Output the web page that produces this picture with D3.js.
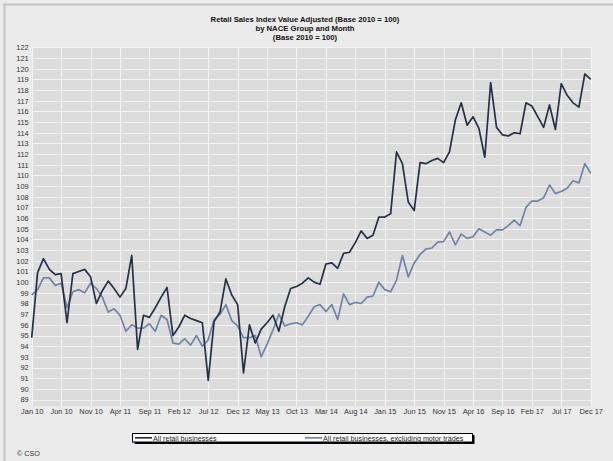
<!DOCTYPE html>
<html>
<head>
<meta charset="utf-8">
<script src="https://cdn.jsdelivr.net/npm/d3@7"></script>
<style>
  html, body { margin: 0; padding: 0; background: #ebebeb; }
  svg { display: block; font-family: "Liberation Sans", Arial, sans-serif; }
</style>
</head>
<body>
<svg id="chart" width="613" height="461"></svg>
<script>
const titleLines = [
  "Retail Sales Index Value Adjusted (Base 2010 = 100)",
  "by NACE Group and Month",
  "(Base 2010 = 100)"
];
const seriesNames = ["All retail businesses", "All retail businesses, excluding motor trades"];
const tickLabels = ["Jan 10","Jun 10","Nov 10","Apr 11","Sep 11","Feb 12","Jul 12","Dec 12","May 13","Oct 13",
  "Mar 14","Aug 14","Jan 15","Jun 15","Nov 15","Apr 16","Sep 16","Feb 17","Jul 17","Dec 17"];
const yTicks = d3.range(89, 123);

// Monthly values Jan 2010 .. Dec 2017
const allRetail = [
  94.8,100.9,102.2,101.2,100.7,100.8, 96.2,100.8,101.0,101.2,100.5, 98.0,
  99.2,100.1, 99.4, 98.6, 99.4,102.5, 93.7, 96.9, 96.7, 97.6, 98.6, 99.5,
  95.0, 95.8, 96.9, 96.6, 96.4, 96.2, 90.8, 96.3, 97.2,100.3, 98.8, 97.9,
  91.5, 96.0, 94.3, 95.6, 96.2, 96.9, 95.4, 97.7, 99.4, 99.6, 99.9,100.4,
  100.0, 99.8,101.7,101.8,101.3,102.7,102.8,103.7,104.8,104.1,104.4,106.1,
  106.1,106.4,112.2,111.1,107.5,106.7,111.2,111.1,111.4,111.6,111.2,112.2,
  115.2,116.8,114.7,115.5,114.4,111.7,118.7,114.5,113.8,113.7,114.0,113.9,
  116.8,116.5,115.5,114.5,116.6,114.3,118.6,117.5,116.8,116.4,119.5,119.0
];
const exMotor = [
  98.8, 99.3,100.4,100.4, 99.7, 99.9, 97.6, 99.1, 99.3, 99.0, 99.9, 99.4,
  98.6, 97.2, 97.5, 96.9, 95.4, 96.0, 95.7, 95.7, 96.1, 95.4, 96.9, 96.5,
  94.3, 94.2, 94.7, 94.1, 95.0, 94.0, 94.6, 96.5, 97.0, 97.9, 96.4, 95.9,
  94.8, 94.8, 95.0, 93.0, 94.2, 95.5, 97.0, 95.9, 96.1, 96.2, 96.0, 96.8,
  97.7, 97.9, 97.25,97.9, 96.5, 98.9, 97.9, 98.1, 98.0, 98.6, 98.7,100.0,
  99.3, 99.1,100.2,102.5,100.5,101.8,102.6,103.1,103.2,103.75,103.8,104.7,
  103.5,104.5,104.1,104.25,105.0,104.7,104.4,104.9,104.9,105.3,105.8,105.3,
  107.0,107.6,107.6,107.9,109.1,108.3,108.5,108.8,109.5,109.3,111.1,110.2
];
const colors = ["#263047", "#7084a8"];

const svg = d3.select("#chart");
const W = 613, H = 461;
const plot = {left: 31.7, right: 590.7, top: 47.3, bottom: 406};

svg.append("rect").attr("width", W).attr("height", H).attr("fill", "#ebebeb");
// frame
svg.append("line").attr("x1", 4.5).attr("x2", 4.5).attr("y1", 3.5).attr("y2", H).attr("stroke", "#c4c4c4").attr("stroke-width", 2);
svg.append("line").attr("x1", 3.5).attr("x2", W).attr("y1", 4.5).attr("y2", 4.5).attr("stroke", "#c4c4c4").attr("stroke-width", 2);

const x = d3.scaleLinear().domain([0, allRetail.length - 1]).range([plot.left, plot.right]);
const y = d3.scaleLinear().domain([88.4, 122]).range([plot.bottom, plot.top]);

// plot background
svg.append("rect")
  .attr("x", plot.left).attr("y", plot.top)
  .attr("width", plot.right - plot.left).attr("height", plot.bottom - plot.top)
  .attr("fill", "#dcdcdc");

// grid
const g = svg.append("g");
g.selectAll("line.h").data(yTicks).join("line")
  .attr("x1", plot.left).attr("x2", plot.right)
  .attr("y1", d => Math.round(y(d)) + 0.5).attr("y2", d => Math.round(y(d)) + 0.5)
  .attr("stroke", "#f4f4f4").attr("stroke-width", 1);
const tickIdx = tickLabels.map((d, i) => i * 5);
g.selectAll("line.v").data(tickIdx).join("line")
  .attr("y1", plot.top).attr("y2", plot.bottom)
  .attr("x1", d => Math.round(x(d)) + 0.5).attr("x2", d => Math.round(x(d)) + 0.5)
  .attr("stroke", "#f4f4f4").attr("stroke-width", 1);

// y axis labels
const yAxis = d3.axisLeft(y).tickValues(yTicks).tickSize(0).tickPadding(3).tickFormat(d3.format("d"));
const ya = svg.append("g").attr("transform", `translate(${plot.left},0)`).call(yAxis);
ya.select(".domain").remove();
ya.selectAll("text").attr("font-size", "7.4px").attr("fill", "#333").attr("font-family", "Liberation Sans, Arial, sans-serif");

// x axis labels
const xAxis = d3.axisBottom(x).tickValues(tickIdx).tickSize(0).tickPadding(3)
  .tickFormat((d, i) => tickLabels[i]);
const xa = svg.append("g").attr("transform", `translate(0,${plot.bottom})`).call(xAxis);
xa.select(".domain").remove();
xa.selectAll("text").attr("font-size", "7.4px").attr("fill", "#333").attr("font-family", "Liberation Sans, Arial, sans-serif");

// lines
const line = d3.line().x((d, i) => x(i)).y(d => y(d));
[exMotor, allRetail].forEach((s, k) => {
  svg.append("path").datum(s)
    .attr("fill", "none")
    .attr("stroke", k === 0 ? colors[1] : colors[0])
    .attr("stroke-width", 1.7)
    .attr("stroke-linejoin", "round")
    .attr("d", line);
});

// title
svg.append("g").selectAll("text").data(titleLines).join("text")
  .attr("x", 305).attr("y", (d, i) => 22 + i * 9)
  .attr("text-anchor", "middle")
  .attr("font-size", "7.7px").attr("font-weight", "bold").attr("fill", "#111")
  .text(d => d);

// legend
const lg = svg.append("g");
lg.append("rect").attr("x", 134.5).attr("y", 435).attr("width", 340).attr("height", 9).attr("fill", "#000");
lg.append("rect").attr("x", 132.5).attr("y", 433.5).attr("width", 340).attr("height", 8.5)
  .attr("fill", "#fff").attr("stroke", "#000").attr("stroke-width", 1);
const legendX = [135, 305];
seriesNames.forEach((name, k) => {
  lg.append("line").attr("x1", legendX[k]).attr("x2", legendX[k] + 17)
    .attr("y1", 437.8).attr("y2", 437.8).attr("stroke", colors[k]).attr("stroke-width", 1.7);
  lg.append("text").attr("x", legendX[k] + 18).attr("y", 440.6)
    .attr("font-size", "7.2px").attr("fill", "#222").text(name);
});

// source
svg.append("text").attr("x", 17).attr("y", 455.5).attr("font-size", "7.2px").attr("fill", "#333").text("© CSO");
</script>
</body>
</html>
